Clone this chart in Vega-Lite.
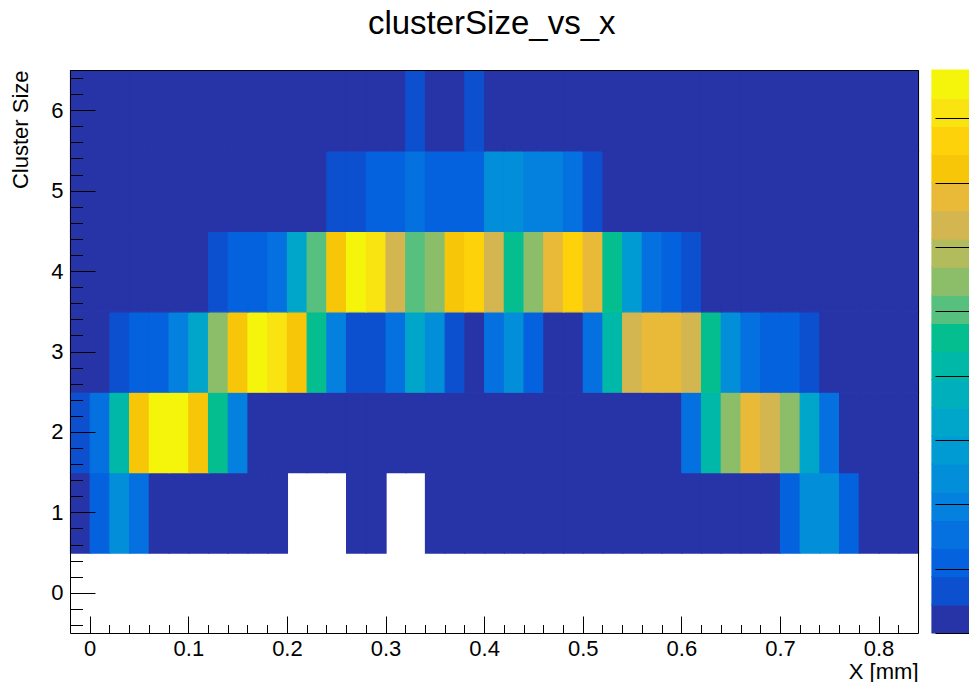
{
  "$schema": "https://vega.github.io/schema/vega-lite/v6.json",
  "background": "white",
  "padding": {"left": 9, "top": 8, "right": 0, "bottom": 0},
  "title": {"text": "clusterSize_vs_x", "fontSize": 33, "fontWeight": "normal", "font": "Liberation Sans", "color": "#000", "anchor": "middle", "offset": 28, "dx": 2},
  "datasets": {
    "cells": [
      {"x":-0.01,"size":1,"n":2},{"x":0.01,"size":1,"n":11},{"x":0.03,"size":1,"n":24},{"x":0.05,"size":1,"n":15},{"x":0.07,"size":1,"n":2},{"x":0.09,"size":1,"n":2},{"x":0.11,"size":1,"n":2},{"x":0.13,"size":1,"n":2},{"x":0.15,"size":1,"n":2},{"x":0.17,"size":1,"n":2},{"x":0.19,"size":1,"n":2},
      {"x":0.27,"size":1,"n":2},{"x":0.29,"size":1,"n":2},
      {"x":0.35,"size":1,"n":2},{"x":0.37,"size":1,"n":2},{"x":0.39,"size":1,"n":2},{"x":0.41,"size":1,"n":2},{"x":0.43,"size":1,"n":2},{"x":0.45,"size":1,"n":2},{"x":0.47,"size":1,"n":2},{"x":0.49,"size":1,"n":2},{"x":0.51,"size":1,"n":2},{"x":0.53,"size":1,"n":2},{"x":0.55,"size":1,"n":2},{"x":0.57,"size":1,"n":2},{"x":0.59,"size":1,"n":2},{"x":0.61,"size":1,"n":2},{"x":0.63,"size":1,"n":2},{"x":0.65,"size":1,"n":2},{"x":0.67,"size":1,"n":2},{"x":0.69,"size":1,"n":2},{"x":0.71,"size":1,"n":11},{"x":0.73,"size":1,"n":24},{"x":0.75,"size":1,"n":24},{"x":0.77,"size":1,"n":11},{"x":0.79,"size":1,"n":2},{"x":0.81,"size":1,"n":2},{"x":0.83,"size":1,"n":2},

      {"x":-0.01,"size":2,"n":7},{"x":0.01,"size":2,"n":15},{"x":0.03,"size":2,"n":42},{"x":0.05,"size":2,"n":72},{"x":0.07,"size":2,"n":85},{"x":0.09,"size":2,"n":85},{"x":0.11,"size":2,"n":72},{"x":0.13,"size":2,"n":46},{"x":0.15,"size":2,"n":20},{"x":0.17,"size":2,"n":2},{"x":0.19,"size":2,"n":2},{"x":0.21,"size":2,"n":2},{"x":0.23,"size":2,"n":2},{"x":0.25,"size":2,"n":2},{"x":0.27,"size":2,"n":2},{"x":0.29,"size":2,"n":2},{"x":0.31,"size":2,"n":2},{"x":0.33,"size":2,"n":2},{"x":0.35,"size":2,"n":2},{"x":0.37,"size":2,"n":2},{"x":0.39,"size":2,"n":2},{"x":0.41,"size":2,"n":2},{"x":0.43,"size":2,"n":2},{"x":0.45,"size":2,"n":2},{"x":0.47,"size":2,"n":2},{"x":0.49,"size":2,"n":2},{"x":0.51,"size":2,"n":2},{"x":0.53,"size":2,"n":2},{"x":0.55,"size":2,"n":2},{"x":0.57,"size":2,"n":2},{"x":0.59,"size":2,"n":2},{"x":0.61,"size":2,"n":15},{"x":0.63,"size":2,"n":42},{"x":0.65,"size":2,"n":55},{"x":0.67,"size":2,"n":68},{"x":0.69,"size":2,"n":63},{"x":0.71,"size":2,"n":55},{"x":0.73,"size":2,"n":33},{"x":0.75,"size":2,"n":15},{"x":0.77,"size":2,"n":2},{"x":0.79,"size":2,"n":2},{"x":0.81,"size":2,"n":2},{"x":0.83,"size":2,"n":2},

      {"x":-0.01,"size":3,"n":2},{"x":0.01,"size":3,"n":2},{"x":0.03,"size":3,"n":7},{"x":0.05,"size":3,"n":11},{"x":0.07,"size":3,"n":11},{"x":0.09,"size":3,"n":20},{"x":0.11,"size":3,"n":33},{"x":0.13,"size":3,"n":55},{"x":0.15,"size":3,"n":72},{"x":0.17,"size":3,"n":85},{"x":0.19,"size":3,"n":81},{"x":0.21,"size":3,"n":72},{"x":0.23,"size":3,"n":46},{"x":0.25,"size":3,"n":20},{"x":0.27,"size":3,"n":7},{"x":0.29,"size":3,"n":7},{"x":0.31,"size":3,"n":15},{"x":0.33,"size":3,"n":33},{"x":0.35,"size":3,"n":24},{"x":0.37,"size":3,"n":7},{"x":0.39,"size":3,"n":2},{"x":0.41,"size":3,"n":15},{"x":0.43,"size":3,"n":24},{"x":0.45,"size":3,"n":11},{"x":0.47,"size":3,"n":2},{"x":0.49,"size":3,"n":2},{"x":0.51,"size":3,"n":15},{"x":0.53,"size":3,"n":42},{"x":0.55,"size":3,"n":63},{"x":0.57,"size":3,"n":68},{"x":0.59,"size":3,"n":68},{"x":0.61,"size":3,"n":63},{"x":0.63,"size":3,"n":46},{"x":0.65,"size":3,"n":24},{"x":0.67,"size":3,"n":15},{"x":0.69,"size":3,"n":11},{"x":0.71,"size":3,"n":11},{"x":0.73,"size":3,"n":7},{"x":0.75,"size":3,"n":2},{"x":0.77,"size":3,"n":2},{"x":0.79,"size":3,"n":2},{"x":0.81,"size":3,"n":2},{"x":0.83,"size":3,"n":2},

      {"x":-0.01,"size":4,"n":2},{"x":0.01,"size":4,"n":2},{"x":0.03,"size":4,"n":2},{"x":0.05,"size":4,"n":2},{"x":0.07,"size":4,"n":2},{"x":0.09,"size":4,"n":2},{"x":0.11,"size":4,"n":2},{"x":0.13,"size":4,"n":7},{"x":0.15,"size":4,"n":11},{"x":0.17,"size":4,"n":11},{"x":0.19,"size":4,"n":15},{"x":0.21,"size":4,"n":33},{"x":0.23,"size":4,"n":50},{"x":0.25,"size":4,"n":72},{"x":0.27,"size":4,"n":85},{"x":0.29,"size":4,"n":81},{"x":0.31,"size":4,"n":63},{"x":0.33,"size":4,"n":50},{"x":0.35,"size":4,"n":55},{"x":0.37,"size":4,"n":72},{"x":0.39,"size":4,"n":77},{"x":0.41,"size":4,"n":63},{"x":0.43,"size":4,"n":46},{"x":0.45,"size":4,"n":55},{"x":0.47,"size":4,"n":68},{"x":0.49,"size":4,"n":77},{"x":0.51,"size":4,"n":68},{"x":0.53,"size":4,"n":46},{"x":0.55,"size":4,"n":29},{"x":0.57,"size":4,"n":15},{"x":0.59,"size":4,"n":11},{"x":0.61,"size":4,"n":7},{"x":0.63,"size":4,"n":2},{"x":0.65,"size":4,"n":2},{"x":0.67,"size":4,"n":2},{"x":0.69,"size":4,"n":2},{"x":0.71,"size":4,"n":2},{"x":0.73,"size":4,"n":2},{"x":0.75,"size":4,"n":2},{"x":0.77,"size":4,"n":2},{"x":0.79,"size":4,"n":2},{"x":0.81,"size":4,"n":2},{"x":0.83,"size":4,"n":2},

      {"x":-0.01,"size":5,"n":2},{"x":0.01,"size":5,"n":2},{"x":0.03,"size":5,"n":2},{"x":0.05,"size":5,"n":2},{"x":0.07,"size":5,"n":2},{"x":0.09,"size":5,"n":2},{"x":0.11,"size":5,"n":2},{"x":0.13,"size":5,"n":2},{"x":0.15,"size":5,"n":2},{"x":0.17,"size":5,"n":2},{"x":0.19,"size":5,"n":2},{"x":0.21,"size":5,"n":2},{"x":0.23,"size":5,"n":2},{"x":0.25,"size":5,"n":7},{"x":0.27,"size":5,"n":7},{"x":0.29,"size":5,"n":11},{"x":0.31,"size":5,"n":11},{"x":0.33,"size":5,"n":15},{"x":0.35,"size":5,"n":11},{"x":0.37,"size":5,"n":11},{"x":0.39,"size":5,"n":11},{"x":0.41,"size":5,"n":24},{"x":0.43,"size":5,"n":24},{"x":0.45,"size":5,"n":20},{"x":0.47,"size":5,"n":20},{"x":0.49,"size":5,"n":15},{"x":0.51,"size":5,"n":7},{"x":0.53,"size":5,"n":2},{"x":0.55,"size":5,"n":2},{"x":0.57,"size":5,"n":2},{"x":0.59,"size":5,"n":2},{"x":0.61,"size":5,"n":2},{"x":0.63,"size":5,"n":2},{"x":0.65,"size":5,"n":2},{"x":0.67,"size":5,"n":2},{"x":0.69,"size":5,"n":2},{"x":0.71,"size":5,"n":2},{"x":0.73,"size":5,"n":2},{"x":0.75,"size":5,"n":2},{"x":0.77,"size":5,"n":2},{"x":0.79,"size":5,"n":2},{"x":0.81,"size":5,"n":2},{"x":0.83,"size":5,"n":2},

      {"x":-0.01,"size":6,"n":2},{"x":0.01,"size":6,"n":2},{"x":0.03,"size":6,"n":2},{"x":0.05,"size":6,"n":2},{"x":0.07,"size":6,"n":2},{"x":0.09,"size":6,"n":2},{"x":0.11,"size":6,"n":2},{"x":0.13,"size":6,"n":2},{"x":0.15,"size":6,"n":2},{"x":0.17,"size":6,"n":2},{"x":0.19,"size":6,"n":2},{"x":0.21,"size":6,"n":2},{"x":0.23,"size":6,"n":2},{"x":0.25,"size":6,"n":2},{"x":0.27,"size":6,"n":2},{"x":0.29,"size":6,"n":2},{"x":0.31,"size":6,"n":2},{"x":0.33,"size":6,"n":7},{"x":0.35,"size":6,"n":2},{"x":0.37,"size":6,"n":2},{"x":0.39,"size":6,"n":7},{"x":0.41,"size":6,"n":2},{"x":0.43,"size":6,"n":2},{"x":0.45,"size":6,"n":2},{"x":0.47,"size":6,"n":2},{"x":0.49,"size":6,"n":2},{"x":0.51,"size":6,"n":2},{"x":0.53,"size":6,"n":2},{"x":0.55,"size":6,"n":2},{"x":0.57,"size":6,"n":2},{"x":0.59,"size":6,"n":2},{"x":0.61,"size":6,"n":2},{"x":0.63,"size":6,"n":2},{"x":0.65,"size":6,"n":2},{"x":0.67,"size":6,"n":2},{"x":0.69,"size":6,"n":2},{"x":0.71,"size":6,"n":2},{"x":0.73,"size":6,"n":2},{"x":0.75,"size":6,"n":2},{"x":0.77,"size":6,"n":2},{"x":0.79,"size":6,"n":2},{"x":0.81,"size":6,"n":2},{"x":0.83,"size":6,"n":2}
    ],
    "zlevels": [
      {"lo":0,"hi":4.375},{"lo":4.375,"hi":8.75},{"lo":8.75,"hi":13.125},{"lo":13.125,"hi":17.5},{"lo":17.5,"hi":21.875},
      {"lo":21.875,"hi":26.25},{"lo":26.25,"hi":30.625},{"lo":30.625,"hi":35},{"lo":35,"hi":39.375},{"lo":39.375,"hi":43.75},
      {"lo":43.75,"hi":48.125},{"lo":48.125,"hi":52.5},{"lo":52.5,"hi":56.875},{"lo":56.875,"hi":61.25},{"lo":61.25,"hi":65.625},
      {"lo":65.625,"hi":70},{"lo":70,"hi":74.375},{"lo":74.375,"hi":78.75},{"lo":78.75,"hi":83.125},{"lo":83.125,"hi":87.5}
    ]
  },
  "spacing": 11,
  "hconcat": [
    {
      "width": 848,
      "height": 563,
      "data": {"name": "cells"},
      "layer": [
        {
          "mark": {"type": "rect", "strokeWidth": 1.2},
          "encoding": {
            "x": {"field": "x", "type": "quantitative", "bin": {"extent": [-0.02, 0.84], "step": 0.02, "nice": false},
                  "scale": {"domain": [-0.02, 0.84], "nice": false, "zero": false},
                  "axis": {"orient": "bottom", "values": [0, 0.1, 0.2, 0.3, 0.4, 0.5, 0.6, 0.7, 0.8], "format": ".1~f",
                           "tickSize": -17, "labelPadding": 22, "title": "X [mm]", "titleAnchor": "end", "titlePadding": 2, "zindex": 1}},
            "y": {"field": "size", "type": "quantitative", "bin": {"extent": [-0.5, 6.5], "step": 1, "nice": false},
                  "scale": {"domain": [-0.5, 6.5], "nice": false, "zero": false},
                  "axis": {"orient": "left", "values": [0, 1, 2, 3, 4, 5, 6], "format": "d",
                           "tickSize": -25, "labelPadding": 32, "title": "Cluster Size", "titleAnchor": "end", "titlePadding": 18, "zindex": 1}},
            "color": {"field": "n", "type": "quantitative",
                      "scale": {"type": "quantize", "domain": [0, 87.5], "nice": false, "zero": false,
                                "range": ["#2734a8","#0c50d0","#0562de","#0570e0","#0480de","#028ed8","#009bd3","#00a6ca","#00afbc","#00b8a8","#04be90","#58c07e","#8cbe6a","#b2bc5c","#d4b650","#e8ba38","#f8c608","#fdd20a","#f9e310","#f5f50c"]},
                      "legend": null},
            "stroke": {"field": "n", "type": "quantitative",
                       "scale": {"type": "quantize", "domain": [0, 87.5], "nice": false, "zero": false,
                                 "range": ["#2734a8","#0c50d0","#0562de","#0570e0","#0480de","#028ed8","#009bd3","#00a6ca","#00afbc","#00b8a8","#04be90","#58c07e","#8cbe6a","#b2bc5c","#d4b650","#e8ba38","#f8c608","#fdd20a","#f9e310","#f5f50c"]},
                       "legend": null}
          }
        },
        {
          "mark": {"type": "rect", "opacity": 0},
          "encoding": {
            "x": {"field": "x", "type": "quantitative", "bin": {"extent": [-0.02, 0.84], "step": 0.02, "nice": false},
                  "scale": {"domain": [-0.02, 0.84], "nice": false, "zero": false},
                  "axis": {"orient": "bottom", "values": [0,0.02,0.04,0.06,0.08,0.1,0.12,0.14,0.16,0.18,0.2,0.22,0.24,0.26,0.28,0.3,0.32,0.34,0.36,0.38,0.4,0.42,0.44,0.46,0.48,0.5,0.52,0.54,0.56,0.58,0.6,0.62,0.64,0.66,0.68,0.7,0.72,0.74,0.76,0.78,0.8,0.82],
                           "tickSize": -8.5, "labels": false, "domain": false, "title": null, "zindex": 1}},
            "y": {"field": "size", "type": "quantitative", "bin": {"extent": [-0.5, 6.5], "step": 1, "nice": false},
                  "scale": {"domain": [-0.5, 6.5], "nice": false, "zero": false},
                  "axis": {"orient": "left", "values": [-0.4,-0.2,0,0.2,0.4,0.6,0.8,1,1.2,1.4,1.6,1.8,2,2.2,2.4,2.6,2.8,3,3.2,3.4,3.6,3.8,4,4.2,4.4,4.6,4.8,5,5.2,5.4,5.6,5.8,6,6.2,6.4],
                           "tickSize": -12.5, "labels": false, "domain": false, "title": null, "zindex": 1}}
          }
        },
        {
          "mark": {"type": "rect", "opacity": 0},
          "encoding": {
            "x": {"field": "x", "type": "quantitative", "bin": {"extent": [-0.02, 0.84], "step": 0.02, "nice": false},
                  "scale": {"domain": [-0.02, 0.84], "nice": false, "zero": false},
                  "axis": {"orient": "top", "ticks": false, "labels": false, "domain": true, "title": null, "zindex": 1}},
            "y": {"field": "size", "type": "quantitative", "bin": {"extent": [-0.5, 6.5], "step": 1, "nice": false},
                  "scale": {"domain": [-0.5, 6.5], "nice": false, "zero": false},
                  "axis": {"orient": "right", "ticks": false, "labels": false, "domain": true, "title": null, "zindex": 1}}
          }
        }
      ],
      "resolve": {"axis": {"x": "independent", "y": "independent"}}
    },
    {
      "width": 37,
      "height": 563,
      "data": {"name": "zlevels"},
      "mark": {"type": "rect", "strokeWidth": 1.2},
      "encoding": {
        "y": {"field": "lo", "type": "quantitative",
              "scale": {"domain": [0, 87.5], "nice": false, "zero": false},
              "axis": {"orient": "right", "values": [0, 10, 20, 30, 40, 50, 60, 70, 80], "labels": false, "domain": false, "ticks": true, "tickSize": -34, "tickWidth": 1.2, "title": null, "zindex": 1}},
        "y2": {"field": "hi"},
        "color": {"field": "lo", "type": "quantitative",
                  "scale": {"type": "quantize", "domain": [0, 87.5], "nice": false, "zero": false,
                            "range": ["#2734a8","#0c50d0","#0562de","#0570e0","#0480de","#028ed8","#009bd3","#00a6ca","#00afbc","#00b8a8","#04be90","#58c07e","#8cbe6a","#b2bc5c","#d4b650","#e8ba38","#f8c608","#fdd20a","#f9e310","#f5f50c"]},
                  "legend": null},
        "stroke": {"field": "lo", "type": "quantitative",
                   "scale": {"type": "quantize", "domain": [0, 87.5], "nice": false, "zero": false,
                             "range": ["#2734a8","#0c50d0","#0562de","#0570e0","#0480de","#028ed8","#009bd3","#00a6ca","#00afbc","#00b8a8","#04be90","#58c07e","#8cbe6a","#b2bc5c","#d4b650","#e8ba38","#f8c608","#fdd20a","#f9e310","#f5f50c"]},
                   "legend": null}
      }
    }
  ],
  "resolve": {"scale": {"y": "independent", "color": "independent", "stroke": "independent"}},
  "config": {
    "font": "Liberation Sans",
    "view": {"stroke": null},
    "axis": {
      "labelFont": "Liberation Sans", "titleFont": "Liberation Sans",
      "labelFontSize": 22, "titleFontSize": 22, "titleFontWeight": "normal",
      "labelColor": "#000", "titleColor": "#000", "tickColor": "#000", "domainColor": "#000",
      "tickWidth": 1, "domainWidth": 1, "grid": false,
      "labelFlush": false, "labelOverlap": false
    }
  }
}
